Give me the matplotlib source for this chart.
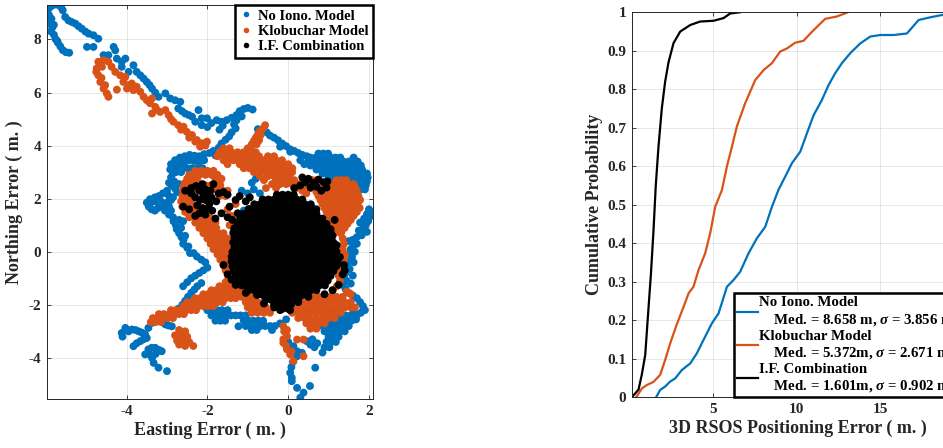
import matplotlib
matplotlib.use("Agg")
import matplotlib.pyplot as plt
from matplotlib.lines import Line2D

plt.rcParams['font.family'] = ['Liberation Serif', 'DejaVu Serif']
plt.rcParams['font.weight'] = 'bold'
plt.rcParams['axes.unicode_minus'] = False
plt.rcParams['mathtext.fontset'] = 'custom'
plt.rcParams['mathtext.it'] = 'Liberation Serif:italic'
plt.rcParams['mathtext.rm'] = 'Liberation Serif'

BLUE = '#0072BD'
ORANGE = '#D95319'
BLACK = '#000000'
DARK = '#262626'

series_names = ['No Iono. Model', 'Klobuchar Model', 'I.F. Combination']

# ---------------- scatter data: (Easting, Northing) error in m ----------------
no_iono_pts = [
    (-5.97, 9.05), (-5.92, 9.18), (-5.85, 9.27), (-5.76, 9.32), (-5.68, 9.3), (-5.62, 9.22), (-5.58, 9.1),
    (-5.92, 8.92), (-5.86, 8.78), (-5.9, 8.6), (-5.84, 8.45), (-5.87, 8.3), (-5.8, 8.18), (-5.76, 8.02),
    (-5.7, 7.88), (-5.64, 7.74), (-5.58, 7.6), (-5.5, 7.52), (-5.42, 7.5), (-5.8, 8.55), (-5.72, 7.95),
    (-5.52, 8.85), (-5.44, 8.72), (-5.36, 8.66), (-5.27, 8.6), (-5.19, 8.5), (-5.11, 8.41), (-5.02, 8.3),
    (-4.94, 8.22), (-4.82, 8.16), (-4.7, 8.03), (-4.98, 7.72), (-4.82, 7.72), (-4.57, 7.41), (-4.45, 7.41),
    (-4.32, 7.72), (-4.28, 7.59), (-4.24, 7.28), (-4.12, 7.16), (-4.03, 7.28), (-4.12, 6.97), (-3.95, 6.78),
    (-3.83, 7.03), (-3.75, 6.78), (-3.66, 6.65), (-3.58, 6.53), (-3.5, 6.4), (-3.43, 6.28), (-3.37, 6.15),
    (-3.29, 6.0), (-3.21, 5.84), (-3.04, 5.97), (-2.92, 5.78), (-2.8, 5.71), (-2.67, 5.65), (-2.72, 5.4),
    (-2.63, 5.3), (-2.55, 5.21), (-2.46, 5.15), (-2.38, 5.09), (-2.22, 5.34), (-2.14, 5.03), (-2.01, 5.03),
    (-2.14, 4.77), (-2.0, 4.7), (-2.3, 4.9), (-1.9, 4.85),
    (-1.77, 4.96), (-1.65, 4.9), (-1.52, 4.96), (-1.4, 5.05), (-1.28, 5.15), (-1.2, 5.3), (-1.1, 5.38),
    (-1.0, 5.42), (-0.88, 5.36), (-1.15, 5.1), (-1.28, 4.95), (-1.34, 4.8), (-1.3, 4.65), (-1.4, 4.5),
    (-1.46, 4.35), (-1.55, 4.22), (-1.65, 4.08), (-1.72, 3.92), (-1.76, 3.78), (-1.8, 3.63), (-1.62, 4.75),
    (-1.7, 4.6), (-1.95, 3.72), (-1.85, 3.8),
    (-0.75, 4.62), (-0.61, 4.59), (-0.53, 4.5), (-0.45, 4.38), (-0.35, 4.3), (-0.25, 4.2), (-0.15, 4.08),
    (-0.05, 3.98), (0.05, 3.86), (0.15, 3.8), (0.25, 3.72), (0.35, 3.65), (0.46, 3.6), (-0.2, 3.96),
    (0.05, 3.77), (0.3, 3.45), (0.4, 3.3),
    (2.05, 1.5), (1.95, 1.42), (2.08, 1.35), (1.88, 1.25), (1.98, 1.15), (1.92, 1.0), (1.85, 0.85),
    (1.95, 0.75), (1.82, 0.62), (1.7, 0.55), (1.6, 0.45), (1.5, 0.4), (1.62, 0.25), (1.55, 0.1),
    (1.52, -0.05), (1.58, -0.2), (1.5, -0.35), (1.45, -0.5), (1.52, -0.65), (1.42, -0.8), (1.38, -0.95),
    (1.45, -1.1), (1.35, -1.25), (1.42, -1.4), (1.5, -1.55), (1.6, -1.65), (1.7, -1.75), (1.78, -1.9),
    (1.85, -2.05), (1.9, -2.2), (1.8, -2.3), (1.7, -2.4), (1.62, -2.25), (1.68, -2.55), (2.0, 1.6), (1.78, 1.1),
    (1.65, 0.0), (1.62, -0.4), (1.6, -0.9), (1.55, -1.2), (1.7, 0.3), (1.75, 0.8),
    (0.6, -3.3), (0.72, -3.45), (0.65, -3.6), (0.55, -3.5),
    (0.13, -3.56), (0.22, -3.75), (0.22, -3.94), (0.12, -4.15), (0.08, -4.35), (0.05, -4.56), (0.09, -4.75),
    (0.09, -4.88), (0.22, -5.13), (0.38, -5.31), (0.3, -5.5), (0.67, -4.37), (0.54, -5.06), (0.34, -3.81),
    (0.46, -3.37), (0.0, -3.4), (-0.05, -3.3),
    (-1.23, -2.81), (-0.2, -2.7), (-0.05, -2.55),
    (-4.12, -3.06), (-4.03, -2.87), (-3.95, -3.0), (-3.87, -2.93), (-3.78, -2.95), (-3.7, -3.0), (-3.62, -3.05),
    (-3.54, -3.12), (-3.83, -3.56), (-3.75, -3.45), (-3.66, -3.37), (-3.58, -3.3), (-3.5, -3.25), (-3.46, -2.87),
    (-3.37, -2.68), (-3.29, -2.62), (-3.21, -2.56), (-3.12, -2.62), (-3.04, -2.74), (-2.96, -2.78), (-2.88, -2.81),
    (-4.1, -3.2),
    (-3.46, -3.68), (-3.38, -3.62), (-3.29, -3.62), (-3.2, -3.7), (-3.13, -3.75), (-3.37, -4.0), (-3.45, -3.85),
    (-3.54, -3.87), (-3.28, -3.85), (-3.33, -4.19), (-3.21, -4.37), (-3.0, -4.5),
    (-2.9, -2.45), (-2.8, -2.3), (-2.72, -2.15), (-2.62, -2.0), (-2.55, -1.85), (-2.48, -1.7), (-2.4, -1.55),
    (-2.32, -1.42), (-2.25, -1.3), (-2.15, -1.18), (-2.6, -1.3), (-2.5, -1.15), (-2.4, -1.0), (-2.3, -0.9),
    (-2.2, -0.8), (-2.1, -0.7), (-2.0, -0.6),
    (-2.6, 0.3), (-2.5, 0.15), (-2.43, -0.05), (-2.26, -0.18), (-2.15, -0.3), (-2.05, -0.4),
    (-2.9, 3.3), (-2.8, 3.45), (-2.68, 3.55), (-2.56, 3.6), (-2.44, 3.65), (-2.32, 3.62), (-2.2, 3.6),
    (-2.08, 3.68), (-2.8, 3.25), (-2.68, 3.35), (-2.56, 3.4), (-2.44, 3.45), (-2.32, 3.42), (-2.2, 3.4),
    (-2.08, 3.45), (-2.92, 3.1), (-2.85, 2.95), (-2.9, 2.8), (-2.82, 2.65), (-2.88, 2.5), (-2.8, 2.38),
    (-2.75, 2.25), (-3.0, 2.3), (-3.1, 2.2), (-3.2, 2.1), (-3.3, 2.05), (-3.42, 1.98), (-3.5, 1.85),
    (-3.45, 1.7), (-3.38, 1.6), (-3.3, 1.55), (-3.22, 1.65), (-3.12, 1.75), (-3.0, 1.85), (-2.9, 1.95),
    (-3.4, 1.85), (-3.28, 1.9), (-2.95, 1.7), (-2.9, 1.55), (-2.95, 1.4), (-2.85, 1.3), (-2.84, 1.15),
    (-2.78, 1.0), (-2.76, 0.85), (-2.7, 0.7), (-2.64, 0.55), (-2.59, 0.45), (-2.47, 0.2), (-2.34, -0.05),
    (-1.15, 2.3), (-1.0, 2.2), (-0.85, 2.35), (-0.7, 2.2), (-1.1, 1.55), (-0.9, 2.6), (-0.8, 2.75),
    (-2.95, 2.6), (-2.7, 2.55), (-2.95, 2.1), (-2.85, 2.05), (-2.7, 1.2), (-2.6, 1.15), (-2.65, 0.9),
    (-2.55, 0.6), (-3.05, 1.55), (-3.15, 1.9),
]
no_iono_rows = [
    (3.15, [-2.75, -2.62, -2.5, -2.38, -2.25, -2.12]),
    (3.0, [-2.78, -2.65]),
    (3.7, [0.75, 0.87, 0.99]),
    (3.55, [0.55, 0.68, 0.8, 0.92, 1.05, 1.17, 1.29, 1.62]),
    (3.4, [0.5, 0.62, 0.75, 0.87, 1.0, 1.12, 1.25, 1.37, 1.5, 1.62, 1.72]),
    (3.25, [0.55, 0.68, 0.8, 0.93, 1.05, 1.18, 1.3, 1.43, 1.55, 1.68, 1.8]),
    (3.1, [0.7, 0.82, 0.95, 1.07, 1.2, 1.32, 1.45, 1.57, 1.7, 1.83]),
    (2.95, [0.85, 0.97, 1.1, 1.22, 1.35, 1.47, 1.6, 1.72, 1.85, 1.95]),
    (2.8, [1.0, 1.12, 1.25, 1.37, 1.5, 1.62, 1.75, 1.87, 1.97]),
    (2.65, [1.6, 1.72, 1.85, 1.95]),
    (2.5, [1.7, 1.82, 1.92]),
    (2.35, [1.8, 1.9]),
    (-2.4, [1.3, 1.42, 1.55, 1.68]),
    (-2.6, [0.95, 1.07, 1.2, 1.32, 1.45, 1.57]),
    (-2.8, [0.75, 0.87, 1.0, 1.12, 1.25, 1.37, 1.5]),
    (-3.0, [0.9, 1.02, 1.15, 1.27, 1.4]),
    (-3.2, [1.0, 1.12, 1.25]),
    (-3.4, [0.95, 1.07, 1.18]),
    (-3.6, [0.9, 1.02]),
    (-3.8, [0.85]),
    (-2.0, [-2.2, -2.08]),
    (-2.2, [-2.0, -1.88, -1.76, -1.64, -1.5]),
    (-2.4, [-1.9, -1.78, -1.66, -1.54, -1.42, -1.3, -1.18, -1.05]),
    (-2.6, [-1.8, -1.68, -1.56, -1.1, -0.98, -0.86, -0.74, -0.62]),
    (-2.8, [-1.05, -0.93, -0.81, -0.69, -0.57, -0.45, -0.33]),
    (-2.95, [-0.9, -0.78, -0.4]),
]

klobuchar_pts = [
    (-4.7, 7.16), (-4.57, 7.22), (-4.45, 7.16), (-4.74, 6.91), (-4.61, 6.97), (-4.7, 6.65), (-4.65, 6.4),
    (-4.57, 6.15), (-4.49, 5.97), (-4.45, 5.84), (-4.53, 6.28), (-4.24, 6.11), (-4.75, 6.78), (-4.62, 6.55),
    (-4.37, 6.97), (-4.28, 6.78), (-4.16, 6.65), (-4.08, 6.4), (-3.99, 6.15), (-3.87, 6.34), (-3.75, 6.22),
    (-3.66, 6.03), (-3.58, 5.84), (-3.5, 5.71), (-3.37, 5.78), (-3.29, 5.46), (-3.37, 5.21), (-3.17, 5.27),
    (-3.04, 5.34), (-2.96, 5.15), (-2.84, 4.9), (-2.72, 4.77), (-2.59, 4.71), (-2.51, 4.52), (-2.38, 4.4),
    (-2.26, 4.21), (-2.14, 4.09), (-2.01, 4.15), (-2.18, 3.96), (-4.03, 6.59), (-3.83, 6.09), (-3.95, 6.28),
    (-3.42, 5.6), (-3.25, 5.35), (-2.9, 5.0), (-2.65, 4.6), (-2.45, 4.3), (-2.3, 4.15), (-2.05, 4.0),
    (-2.7, -2.95), (-2.55, -3.0), (-2.8, -3.15), (-2.65, -3.15), (-2.5, -3.2), (-2.75, -3.35), (-2.6, -3.35),
    (-2.45, -3.4), (-2.7, -3.5), (-2.55, -3.55), (-2.35, -3.55),
    (-0.12, -2.81), (-0.03, -2.95), (-0.03, -3.18), (-0.12, -3.3), (-0.12, -3.43), (-0.05, -3.55),
    (-0.03, -3.68), (0.05, -3.87), (0.13, -4.12), (0.38, -3.31), (0.38, -3.94), (0.22, -3.31), (0.08, -3.75),
    (-0.1, -3.0),
    (1.3, 0.7), (1.35, 0.5), (1.38, 0.3), (1.35, 0.1), (1.4, -0.1), (1.38, -0.3), (1.32, -0.5), (1.3, -0.7),
    (1.25, -0.9), (1.28, -1.1), (1.2, -1.3), (1.1, -1.45), (1.45, -1.5), (1.55, -1.6),
    (-0.57, 4.77), (-0.62, 4.65), (-0.7, 4.55), (-0.75, 4.42), (-0.8, 4.3), (-0.85, 4.18), (-0.9, 4.05),
    (-0.92, 3.92), (-0.68, 4.4), (-0.72, 4.2), (-0.78, 4.05),
    (-1.5, 1.6), (-1.4, 1.35), (-1.3, 1.8), (-1.45, 1.0), (-1.35, 0.8), (0.35, 2.3), (0.45, 2.2),
]
klobuchar_rows = [
    (3.9, [-1.6, -1.45, -1.0]),
    (3.75, [-1.7, -1.55, -1.4, -1.25, -1.1, -0.95, -0.8]),
    (3.6, [-1.75, -1.62, -1.5, -1.38, -1.25, -1.12, -0.98, -0.85, -0.72, -0.5, -0.35]),
    (3.45, [-1.6, -1.48, -1.35, -1.22, -1.1, -0.98, -0.85, -0.72, -0.6, -0.45, -0.3, -0.15]),
    (3.3, [-1.5, -1.2, -1.07, -0.95, -0.82, -0.7, -0.57, -0.45, -0.3, -0.15, 0.0]),
    (3.15, [-1.1, -0.97, -0.85, -0.72, -0.6, -0.47, -0.35, -0.2, -0.05, 0.1]),
    (3.0, [-0.85, -0.7, -0.55, -0.42, -0.3, -0.18, -0.05, 0.1]),
    (2.85, [-0.7, -0.5, -0.35, -0.22, -0.1, 0.02]),
    (2.7, [-0.6, -0.3, -0.15, 0.0, 0.15]),
    (2.55, [-0.4, -0.2, -0.05, 0.1, 0.25]),
    (2.4, [-0.55, -0.3, 0.2, 0.35]),
    (3.05, [-2.3, -2.15, -2.0, -1.85]),
    (2.9, [-2.45, -2.32, -2.2, -2.05, -1.9, -1.75]),
    (2.75, [-2.5, -2.38, -2.25, -1.8, -1.65]),
    (2.6, [-2.55, -2.42, -1.7]),
    (2.5, [-2.3, -2.18, -2.05, -1.92, -1.8, -1.68]),
    (2.45, [-2.6, -2.5]),
    (2.3, [-2.6, -2.48, -2.35, -1.75, -1.62, -1.5]),
    (2.1, [-2.62, -2.5, -1.7, -1.55]),
    (1.9, [-2.65, -2.52, -2.4]),
    (1.7, [-2.62, -2.5, -2.38]),
    (1.5, [-2.55, -2.42, -2.3, -2.18]),
    (1.3, [-2.45, -2.32, -2.2, -2.08, -1.95]),
    (1.1, [-2.3, -2.18, -2.05, -1.92, -1.8]),
    (0.9, [-2.2, -2.05, -1.9, -1.78]),
    (0.7, [-2.1, -1.98, -1.85, -1.72, -1.6]),
    (0.5, [-2.0, -1.88, -1.75, -1.62, -1.5]),
    (0.3, [-1.92, -1.8, -1.68, -1.55, -1.42]),
    (0.1, [-1.85, -1.72, -1.6, -1.48, -1.35]),
    (-0.1, [-1.75, -1.62, -1.5, -1.38]),
    (-0.3, [-1.68, -1.55, -1.42]),
    (-0.5, [-1.6, -1.48]),
    (-0.7, [-1.55, -1.42]),
    (-0.85, [-1.45, -1.32]),
    (-1.0, [-1.48, -1.35, -1.22]),
    (-1.15, [-1.55, -1.42, -1.3, -1.18]),
    (-1.3, [-1.7, -1.58, -1.45, -1.32, -1.2, -1.08]),
    (-1.45, [-1.9, -1.78, -1.65, -1.52, -1.4, -1.28, -1.15]),
    (-1.6, [-2.1, -1.98, -1.85, -1.72, -1.6, -1.48, -1.35, -1.22]),
    (-1.75, [-2.3, -2.18, -2.05, -1.92, -1.8, -1.68, -1.55, -1.42, -1.3]),
    (-1.9, [-2.5, -2.38, -2.25, -2.12, -2.0, -1.88, -1.75, -1.62]),
    (-2.05, [-2.6, -2.48, -2.35, -2.22, -2.1, -1.98, -1.85]),
    (-2.2, [-2.9, -2.78, -2.65, -2.52, -2.4, -2.28]),
    (-2.35, [-3.2, -3.08, -2.95, -2.82, -2.7, -2.58]),
    (-2.5, [-3.35, -3.22, -3.1, -2.98, -2.85]),
    (-2.65, [-3.4, -3.28, -3.15]),
    (-1.5, [-1.1, -0.98]),
    (-1.7, [-1.15, -1.0, -0.85, 0.6, 0.75, 0.9, 1.05, 1.2, 1.35]),
    (-1.9, [-1.05, -0.9, -0.75, 0.35, 0.5, 0.65, 0.8, 0.95, 1.1, 1.25, 1.4, 1.55]),
    (-2.1, [-1.0, -0.85, -0.7, -0.55, 0.2, 0.35, 0.5, 0.65, 0.8, 0.95, 1.1, 1.25, 1.4, 1.55, 1.65]),
    (-2.3, [-0.9, -0.75, -0.6, -0.45, 0.1, 0.25, 0.4, 0.55, 0.7, 0.85, 1.0, 1.15, 1.3]),
    (-2.5, [0.25, 0.4, 0.55, 0.7, 0.85, 1.0, 1.15]),
    (-2.7, [0.45, 0.6, 0.75, 0.9]),
    (-2.9, [0.55, 0.7]),
    (2.7, [0.6, 0.72, 1.2, 1.32, 1.44]),
    (2.55, [0.5, 0.62, 0.75, 0.87, 1.0, 1.12, 1.25, 1.37, 1.5, 1.62]),
    (2.4, [0.55, 0.67, 0.8, 0.92, 1.05, 1.17, 1.3, 1.42, 1.55, 1.67]),
    (2.25, [0.7, 0.82, 0.95, 1.07, 1.2, 1.32, 1.45, 1.57, 1.7]),
    (2.1, [0.75, 0.87, 1.0, 1.12, 1.25, 1.37, 1.5, 1.62, 1.74]),
    (1.95, [0.8, 0.92, 1.05, 1.17, 1.3, 1.42, 1.55, 1.67, 1.78]),
    (1.8, [0.85, 0.97, 1.1, 1.22, 1.35, 1.47, 1.6, 1.72]),
    (1.65, [0.9, 1.02, 1.15, 1.27, 1.4, 1.52, 1.65, 1.77]),
    (1.5, [0.95, 1.07, 1.2, 1.32, 1.45, 1.57, 1.7]),
    (1.35, [1.0, 1.12, 1.25, 1.37, 1.5, 1.62]),
    (1.2, [1.05, 1.17, 1.3, 1.42, 1.55]),
    (1.05, [1.1, 1.22, 1.35, 1.47]),
    (0.9, [1.15, 1.27, 1.4]),
    (0.75, [1.2, 1.32]),
]

if_comb_pts = [
    (-2.55, 2.3), (-2.4, 2.2), (-2.28, 2.48), (-2.2, 2.3), (-2.12, 2.55), (-2.05, 2.35), (-2.0, 2.15),
    (-1.92, 2.3), (-1.85, 2.55), (-2.3, 2.05), (-2.18, 1.95), (-2.05, 1.95), (-1.95, 1.8), (-2.25, 1.75),
    (-2.12, 1.65), (-2.0, 1.62), (-1.88, 1.55), (-2.2, 1.45), (-2.05, 1.4), (-1.78, 1.9), (-1.72, 2.2),
    (-1.6, 2.25), (-1.5, 2.15), (-2.45, 1.6), (-2.3, 1.35), (-1.65, 1.45), (-1.5, 1.3), (-1.38, 1.2),
    (-1.45, 1.7), (-1.3, 1.95), (-1.2, 2.1), (-1.05, 1.9), (-0.95, 2.05), (-1.25, 1.45), (-1.15, 1.3),
    (-2.1, 2.1), (-1.9, 2.05), (-2.6, 1.7), (-2.4, 2.4), (-1.8, 1.25),
    (0.35, 2.8), (0.5, 2.75), (0.62, 2.6), (0.75, 2.72), (0.88, 2.62), (0.95, 2.42), (0.55, 2.42),
    (0.3, 2.5), (0.15, 2.4), (0.7, 2.45), (0.42, 2.62), (0.82, 2.3), (0.97, 2.65),
    (0.85, 1.25), (0.95, 1.05), (1.05, 0.85), (1.1, 0.6), (1.2, 0.25), (1.28, -0.2), (1.38, -0.5),
    (1.35, -0.85), (1.25, -1.25), (1.1, -1.45), (0.9, -1.6), (1.15, 1.2), (0.7, 1.6), (1.4, -0.7),
    (-0.2, -2.2), (0.05, -2.2), (-0.6, -1.95), (-1.05, -1.55), (-1.3, -1.25), (-1.6, -0.5), (-1.5, -0.85),
    (-1.4, -1.05), (-0.35, -2.1), (0.25, -1.9), (0.5, -1.7),
]
if_comb_rows = [
    (2.15, [-0.28, -0.14, 0, 0.14]),
    (1.97, [-0.63, -0.49, -0.35, -0.21, -0.07, 0.07, 0.21, 0.35]),
    (1.79, [-0.84, -0.7, -0.56, -0.42, -0.28, -0.14, 0, 0.14, 0.28, 0.42, 0.56]),
    (1.61, [-0.98, -0.91, -0.77, -0.63, -0.49, -0.35, -0.21, -0.07, 0.07, 0.21, 0.35, 0.49, 0.63]),
    (1.43, [-1.12, -0.98, -0.84, -0.7, -0.56, -0.42, -0.28, -0.14, 0, 0.14, 0.28, 0.42, 0.56, 0.7]),
    (1.25, [-1.19, -1.05, -0.91, -0.77, -0.63, -0.49, -0.35, -0.21, -0.07, 0.07, 0.21, 0.35, 0.49, 0.63, 0.77]),
    (1.07, [-1.26, -1.12, -0.98, -0.84, -0.7, -0.56, -0.42, -0.28, -0.14, 0, 0.14, 0.28, 0.42, 0.56, 0.7, 0.84]),
    (0.89, [-1.33, -1.19, -1.05, -0.91, -0.77, -0.63, -0.49, -0.35, -0.21, -0.07, 0.07, 0.21, 0.35, 0.49, 0.63,
            0.77, 0.91]),
    (0.71, [-1.36, -1.26, -1.12, -0.98, -0.84, -0.7, -0.56, -0.42, -0.28, -0.14, 0, 0.14, 0.28, 0.42, 0.56, 0.7,
            0.84, 0.98, 1.06]),
    (0.53, [-1.33, -1.19, -1.05, -0.91, -0.77, -0.63, -0.49, -0.35, -0.21, -0.07, 0.07, 0.21, 0.35, 0.49, 0.63,
            0.77, 0.91, 1.05]),
    (0.35, [-1.36, -1.26, -1.12, -0.98, -0.84, -0.7, -0.56, -0.42, -0.28, -0.14, 0, 0.14, 0.28, 0.42, 0.56, 0.7,
            0.84, 0.98, 1.12]),
    (0.17, [-1.33, -1.19, -1.05, -0.91, -0.77, -0.63, -0.49, -0.35, -0.21, -0.07, 0.07, 0.21, 0.35, 0.49, 0.63,
            0.77, 0.91, 1.05, 1.17]),
    (-0.01, [-1.38, -1.26, -1.12, -0.98, -0.84, -0.7, -0.56, -0.42, -0.28, -0.14, 0, 0.14, 0.28, 0.42, 0.56, 0.7,
             0.84, 0.98, 1.12, 1.2]),
    (-0.19, [-1.4, -1.33, -1.19, -1.05, -0.91, -0.77, -0.63, -0.49, -0.35, -0.21, -0.07, 0.07, 0.21, 0.35, 0.49,
             0.63, 0.77, 0.91, 1.05, 1.19]),
    (-0.37, [-1.4, -1.26, -1.12, -0.98, -0.84, -0.7, -0.56, -0.42, -0.28, -0.14, 0, 0.14, 0.28, 0.42, 0.56, 0.7,
             0.84, 0.98, 1.12, 1.22]),
    (-0.55, [-1.38, -1.33, -1.19, -1.05, -0.91, -0.77, -0.63, -0.49, -0.35, -0.21, -0.07, 0.07, 0.21, 0.35, 0.49,
             0.63, 0.77, 0.91, 1.05, 1.19]),
    (-0.73, [-1.35, -1.26, -1.12, -0.98, -0.84, -0.7, -0.56, -0.42, -0.28, -0.14, 0, 0.14, 0.28, 0.42, 0.56, 0.7,
             0.84, 0.98, 1.12]),
    (-0.91, [-1.3, -1.19, -1.05, -0.91, -0.77, -0.63, -0.49, -0.35, -0.21, -0.07, 0.07, 0.21, 0.35, 0.49, 0.63,
             0.77, 0.91, 1.05]),
    (-1.09, [-1.26, -1.12, -0.98, -0.84, -0.7, -0.56, -0.42, -0.28, -0.14, 0, 0.14, 0.28, 0.42, 0.56, 0.7, 0.84,
             0.98]),
    (-1.27, [-1.15, -1.05, -0.91, -0.77, -0.63, -0.49, -0.35, -0.21, -0.07, 0.07, 0.21, 0.35, 0.49, 0.63, 0.77,
             0.91]),
    (-1.45, [-0.98, -0.84, -0.7, -0.56, -0.42, -0.28, -0.14, 0, 0.14, 0.28, 0.42, 0.56, 0.7]),
    (-1.63, [-0.77, -0.63, -0.49, -0.35, -0.21, -0.07, 0.07, 0.21, 0.35, 0.45]),
    (-1.81, [-0.56, -0.42, -0.28, -0.14, 0, 0.14, 0.25]),
    (-1.99, [-0.35, -0.21, -0.07, 0.07]),
    (-2.15, [-0.14, 0]),
]

# ---------------- CDF data: 3D error (m) vs cumulative probability ----------------
no_iono_err = [1.61, 1.85, 2.15, 2.45, 2.75, 3.15, 3.65, 4.04, 4.44, 4.94, 5.34, 5.84, 6.24, 6.63, 7.13,
               7.63, 8.13, 8.53, 8.92, 9.32, 9.72, 10.22, 10.62, 11.02, 11.51, 11.91, 12.31, 12.71, 13.21,
               13.8, 14.4, 15.0, 15.8, 16.59, 17.29, 17.99, 18.69, 19.4]
no_iono_cdf = [0, 0.019, 0.028, 0.041, 0.049, 0.071, 0.088, 0.114, 0.149, 0.192, 0.218, 0.287, 0.305, 0.326,
               0.374, 0.413, 0.443, 0.495, 0.539, 0.573, 0.608, 0.638, 0.686, 0.733, 0.772, 0.811, 0.842,
               0.868, 0.894, 0.919, 0.937, 0.941, 0.941, 0.945, 0.98, 0.987, 0.993, 1.0]
klob_err = [0.42, 0.76, 1.06, 1.45, 1.85, 2.15, 2.45, 2.85, 3.25, 3.55, 3.84, 4.14, 4.54, 4.84, 5.14, 5.54,
            5.84, 6.14, 6.43, 6.93, 7.53, 8.03, 8.53, 9.02, 9.42, 9.92, 10.42, 10.82, 11.21, 11.71, 12.4, 13.05]
klob_cdf = [0, 0.023, 0.032, 0.04, 0.058, 0.097, 0.14, 0.19, 0.235, 0.27, 0.287, 0.33, 0.374, 0.426, 0.495,
            0.538, 0.6, 0.651, 0.703, 0.764, 0.824, 0.85, 0.868, 0.898, 0.906, 0.921, 0.926, 0.945, 0.962,
            0.983, 0.989, 1.0]
if_err = [0.16, 0.56, 0.76, 0.96, 1.12, 1.3, 1.45, 1.59, 1.75, 1.95, 2.15, 2.35, 2.65, 3.05, 3.65, 4.24,
          5.04, 5.64, 6.04, 6.6]
if_cdf = [0, 0.02, 0.06, 0.11, 0.21, 0.32, 0.43, 0.55, 0.65, 0.75, 0.82, 0.87, 0.92, 0.95, 0.967, 0.976,
          0.978, 0.985, 0.997, 1.0]

cdf_labels = [
    'No Iono. Model\n    Med. = 8.658 m, $\\sigma$ = 3.856 m',
    'Klobuchar Model\n    Med. = 5.372m, $\\sigma$ = 2.671 m',
    'I.F. Combination\n    Med. = 1.601m, $\\sigma$ = 0.902 m',
]

left_xticks = [-4, -2, 0, 2]
left_yticks = [-4, -2, 0, 2, 4, 6, 8]
right_xticks = [5, 10, 15, 20]
right_yticks = [0, 0.1, 0.2, 0.3, 0.4, 0.5, 0.6, 0.7, 0.8, 0.9, 1]
right_yticklabels = ['0', '0.1', '0.2', '0.3', '0.4', '0.5', '0.6', '0.7', '0.8', '0.9', '1']


def flatten(pts, rows):
    xs = [p[0] for p in pts]
    ys = [p[1] for p in pts]
    for y, row in rows:
        for x in row:
            xs.append(x)
            ys.append(y)
    return xs, ys


def style_axes(ax):
    for sp in ax.spines.values():
        sp.set_color(DARK)
        sp.set_linewidth(0.7)
    ax.tick_params(direction='in', length=3, width=0.6, top=True, right=True,
                   colors=DARK, labelsize=11, pad=4)
    ax.grid(True, color=DARK, alpha=0.12, lw=0.6)
    ax.set_axisbelow(True)
    for lab in ax.get_xticklabels() + ax.get_yticklabels():
        lab.set_fontweight('bold')


fig = plt.figure(figsize=(9.43, 4.48), dpi=100)

# ---- left: scatter ----
ax1 = fig.add_axes([47 / 943, 49 / 448, 326 / 943, 394 / 448])
for (pts, rows), col, name in zip(
        [(no_iono_pts, no_iono_rows), (klobuchar_pts, klobuchar_rows), (if_comb_pts, if_comb_rows)],
        [BLUE, ORANGE, BLACK], series_names):
    xs, ys = flatten(pts, rows)
    ax1.scatter(xs, ys, s=32, c=col, edgecolors='none', label=name)
ax1.set_xlim(-5.97, 2.1)
ax1.set_ylim(-5.55, 9.3)
ax1.set_xticks(left_xticks)
ax1.set_yticks(left_yticks)
style_axes(ax1)
ax1.set_xlabel('Easting Error ( m. )', fontsize=13, fontweight='bold', color=DARK, labelpad=3)
ax1.set_ylabel('Northing Error ( m. )', fontsize=13, fontweight='bold', color=DARK, labelpad=4)
h1 = [Line2D([], [], ls='', marker='o', markersize=4, markeredgewidth=0, color=c)
      for c in [BLUE, ORANGE, BLACK]]
leg1 = ax1.legend(h1, series_names, loc='upper right', borderaxespad=0, fancybox=False,
                  edgecolor='black', framealpha=1, prop={'weight': 'bold', 'size': 10.5},
                  handletextpad=0.3, labelspacing=0.15, borderpad=0.3, handlelength=1.0)
leg1.get_frame().set_linewidth(1.8)

# ---- right: CDF ----
ax2 = fig.add_axes([632 / 943, 50.7 / 448, 332 / 943, 385 / 448])
for xs, ys, col in zip([no_iono_err, klob_err, if_err], [no_iono_cdf, klob_cdf, if_cdf],
                       [BLUE, ORANGE, BLACK]):
    ax2.plot(xs, ys, color=col, lw=1.6)
ax2.set_xlim(0.17, 20)
ax2.set_ylim(0, 1)
ax2.set_xticks(right_xticks)
ax2.set_yticks(right_yticks)
ax2.set_yticklabels(right_yticklabels)
style_axes(ax2)
ax2.set_xlabel('3D RSOS Positioning Error ( m. )', fontsize=13, fontweight='bold', color=DARK, labelpad=3)
ax2.set_ylabel('Cumulative Probability', fontsize=13, fontweight='bold', color=DARK, labelpad=3)
h2 = [Line2D([], [], color=c, lw=1.6) for c in [BLUE, ORANGE, BLACK]]
leg2 = ax2.legend(h2, cdf_labels, loc='lower left', bbox_to_anchor=(0.307, 0.0), borderaxespad=0,
                  fancybox=False, edgecolor='black', framealpha=1, prop={'weight': 'bold', 'size': 10.7},
                  handletextpad=0.1, labelspacing=0.14, borderpad=0.2, handlelength=1.4)
leg2.get_frame().set_linewidth(1.8)

fig.savefig('out.png', dpi=100)
